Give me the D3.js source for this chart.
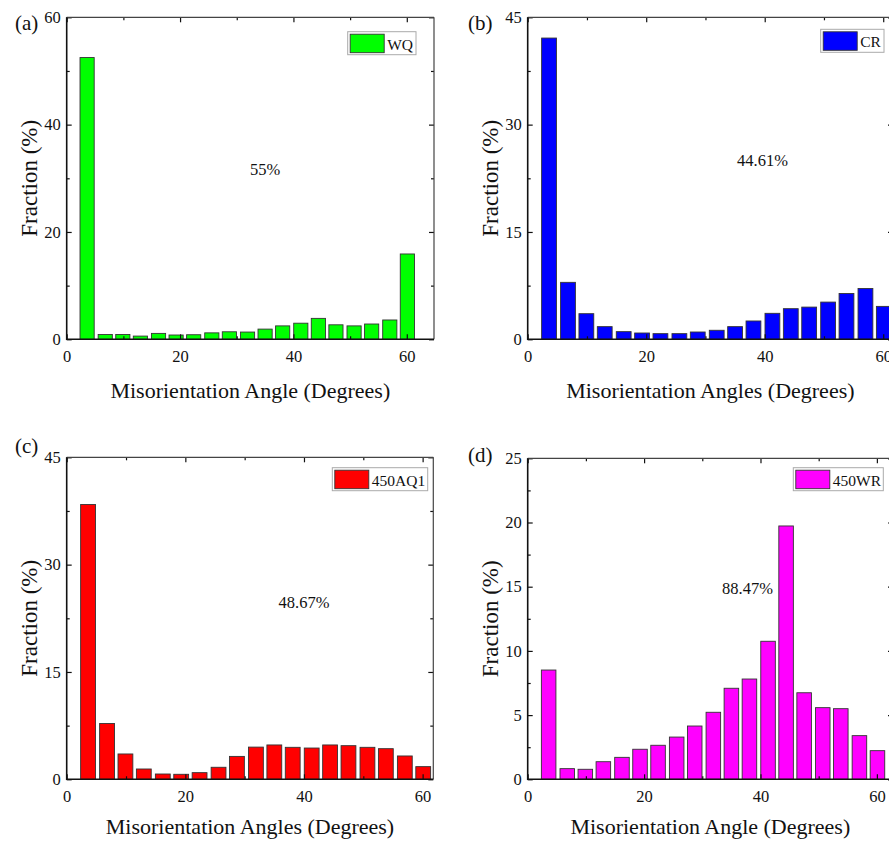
<!DOCTYPE html>
<html>
<head>
<meta charset="utf-8">
<script src="https://cdn.jsdelivr.net/npm/d3@7/dist/d3.min.js"></script>
<style>
  body { margin: 0; background: #fff; }
  svg { display: block; }
  svg text { font-family: "Liberation Serif", "Times New Roman", "DejaVu Serif", serif !important; fill: #111; }
</style>
</head>
<body>
<svg width="889" height="843"></svg>
<script>
// bin centres (degrees), same for all four samples
var angles = [3.6, 6.8, 9.9, 13.0, 16.2, 19.3, 22.4, 25.6, 28.7, 31.9, 35.0, 38.1, 41.3, 44.4, 47.5, 50.7, 53.8, 57.0, 60.1];
var binWidth = 2.5;

// fraction (%) per bin
var wqValues  = [52.5, 0.9, 0.9, 0.6, 1.1, 0.8, 0.85, 1.2, 1.4, 1.35, 1.9, 2.5, 3.0, 3.9, 2.7, 2.5, 2.85, 3.6, 15.9];
var crValues  = [42.1, 7.96, 3.58, 1.77, 1.07, 0.88, 0.79, 0.79, 1.02, 1.26, 1.77, 2.56, 3.63, 4.28, 4.5, 5.2, 6.4, 7.1, 4.6];
var aq1Values = [38.4, 7.8, 3.54, 1.44, 0.74, 0.7, 0.93, 1.68, 3.2, 4.5, 4.8, 4.47, 4.37, 4.8, 4.7, 4.47, 4.28, 3.26, 1.77];
var wrValues  = [8.51, 0.83, 0.78, 1.37, 1.71, 2.34, 2.65, 3.29, 4.15, 5.22, 7.09, 7.81, 10.75, 19.73, 6.74, 5.58, 5.5, 3.4, 2.23];

// axis ticks
var xTicks = [0, 20, 40, 60];
var xMinor = [10, 30, 50];
var yTicksA = [0, 20, 40, 60];
var yMinorA = [10, 30, 50];
var yTicksBC = [0, 15, 30, 45];
var yMinorBC = [7.5, 22.5, 37.5];
var yTicksD = [0, 5, 10, 15, 20, 25];
var yMinorD = [2.5, 7.5, 12.5, 17.5, 22.5];

var panels = [
  { tag: "(a)", name: "WQ", values: wqValues, color: "#00ff00", pct: "55%",
    xTitle: "Misorientation Angle (Degrees)", yMax: 60, yTicks: yTicksA, yMinor: yMinorA,
    left: 66.7, right: 434, top: 17.3, bottom: 339.3, xMax: 64.8,
    tagPos: [15, 30], pctPos: [265, 175], legend: [347.7, 31.7, 68.3], titleY: 398 },
  { tag: "(b)", name: "CR", values: crValues, color: "#0000ff", pct: "44.61%",
    xTitle: "Misorientation Angles (Degrees)", yMax: 45, yTicks: yTicksBC, yMinor: yMinorBC,
    left: 527.7, right: 893, top: 17.3, bottom: 339.3, xMax: 61.65,
    tagPos: [468, 30], pctPos: [762.5, 166], legend: [820.7, 29.3, 63.3], titleY: 398 },
  { tag: "(c)", name: "450AQ1", values: aq1Values, color: "#ff0000", pct: "48.67%",
    xTitle: "Misorientation Angles (Degrees)", yMax: 45, yTicks: yTicksBC, yMinor: yMinorBC,
    left: 66.7, right: 433.3, top: 457.3, bottom: 779.3, xMax: 61.8,
    tagPos: [15, 453], pctPos: [304, 608], legend: [332.3, 467.7, 95.4], titleY: 834 },
  { tag: "(d)", name: "450WR", values: wrValues, color: "#ff00ff", pct: "88.47%",
    xTitle: "Misorientation Angle (Degrees)", yMax: 25, yTicks: yTicksD, yMinor: yMinorD,
    left: 527.7, right: 893, top: 458.3, bottom: 779.3, xMax: 62.77,
    tagPos: [468, 462], pctPos: [747.5, 594], legend: [793.3, 467.7, 90], titleY: 834 }
];

var svg = d3.select("svg");
var serif = "Liberation Serif, Times New Roman, serif";

panels.forEach(drawPanel);

function drawPanel(p) {
  var x = d3.scaleLinear().domain([0, p.xMax]).range([p.left, p.right]);
  var y = d3.scaleLinear().domain([0, p.yMax]).range([p.bottom, p.top]);
  var g = svg.append("g").attr("font-family", serif);

  // bars
  g.selectAll("rect.bar")
    .data(angles.map(function (a, i) { return { angle: a, value: p.values[i] }; }))
    .enter()
    .append("rect")
    .attr("class", "bar")
    .attr("x", function (d) { return x(d.angle - binWidth / 2); })
    .attr("width", function (d) { return x(d.angle + binWidth / 2) - x(d.angle - binWidth / 2); })
    .attr("y", function (d) { return y(d.value); })
    .attr("height", function (d) { return y(0) - y(d.value); })
    .attr("fill", p.color)
    .attr("stroke", "#333")
    .attr("stroke-width", 0.9);

  // ticks, all pointing inwards
  function axis(gen, vals, size, labels, tx, ty) {
    var a = g.append("g")
      .attr("transform", "translate(" + tx + "," + ty + ")")
      .call(gen.tickValues(vals).tickSize(-size).tickSizeOuter(0)
        .tickFormat(labels ? d3.format("d") : ""));
    a.attr("font-family", serif).attr("font-size", 16.5);
    a.select(".domain").remove();
    a.selectAll("line").attr("stroke", "#111").attr("stroke-width", 1.2);
    return a;
  }
  var bx = axis(d3.axisBottom(x), xTicks, 5, true, 0, p.bottom);
  bx.selectAll("text").attr("y", 11);
  axis(d3.axisBottom(x), xMinor, 3, false, 0, p.bottom);
  axis(d3.axisTop(x), xTicks, 5, false, 0, p.top);
  axis(d3.axisTop(x), xMinor, 3, false, 0, p.top);
  var ly = axis(d3.axisLeft(y), p.yTicks, 5, true, p.left, 0);
  ly.selectAll("text").attr("x", -6);
  axis(d3.axisLeft(y), p.yMinor, 3, false, p.left, 0);
  axis(d3.axisRight(y), p.yTicks, 5, false, p.right, 0);
  axis(d3.axisRight(y), p.yMinor, 3, false, p.right, 0);

  // frame
  g.append("line").attr("x1", p.left).attr("x2", p.right).attr("y1", p.top).attr("y2", p.top)
    .attr("stroke", "#444").attr("stroke-width", 1.2);
  g.append("line").attr("x1", p.right).attr("x2", p.right).attr("y1", p.top).attr("y2", p.bottom)
    .attr("stroke", "#444").attr("stroke-width", 1.2);
  g.append("line").attr("x1", p.left).attr("x2", p.left).attr("y1", p.top).attr("y2", p.bottom + 0.75)
    .attr("stroke", "#111").attr("stroke-width", 1.6);
  g.append("line").attr("x1", p.left).attr("x2", p.right).attr("y1", p.bottom).attr("y2", p.bottom)
    .attr("stroke", "#111").attr("stroke-width", 1.6);

  // legend
  var lg = g.append("g").attr("transform", "translate(" + p.legend[0] + "," + p.legend[1] + ")");
  lg.append("rect").attr("width", p.legend[2]).attr("height", 23)
    .attr("fill", "#fff").attr("stroke", "#aaa").attr("stroke-width", 1);
  lg.append("rect").attr("x", 2.5).attr("y", 2.5).attr("width", 34).attr("height", 18.5)
    .attr("fill", p.color).attr("stroke", "#333").attr("stroke-width", 0.9);
  lg.append("text").attr("x", 39.5).attr("y", 18).attr("font-size", 15.5).text(p.name);

  // texts
  g.append("text").attr("x", p.tagPos[0]).attr("y", p.tagPos[1])
    .attr("font-size", 21).text(p.tag);
  g.append("text").attr("x", p.pctPos[0]).attr("y", p.pctPos[1])
    .attr("text-anchor", "middle").attr("font-size", 16.5).text(p.pct);
  g.append("text")
    .attr("x", (p.left + p.right) / 2)
    .attr("y", p.titleY)
    .attr("text-anchor", "middle").attr("font-size", 22)
    .text(p.xTitle);
  g.append("text")
    .attr("transform", "translate(" + (p.left - 30) + "," + ((p.top + p.bottom) / 2) + ") rotate(-90)")
    .attr("text-anchor", "middle").attr("font-size", 23)
    .text("Fraction (%)");
}
</script>
</body>
</html>
